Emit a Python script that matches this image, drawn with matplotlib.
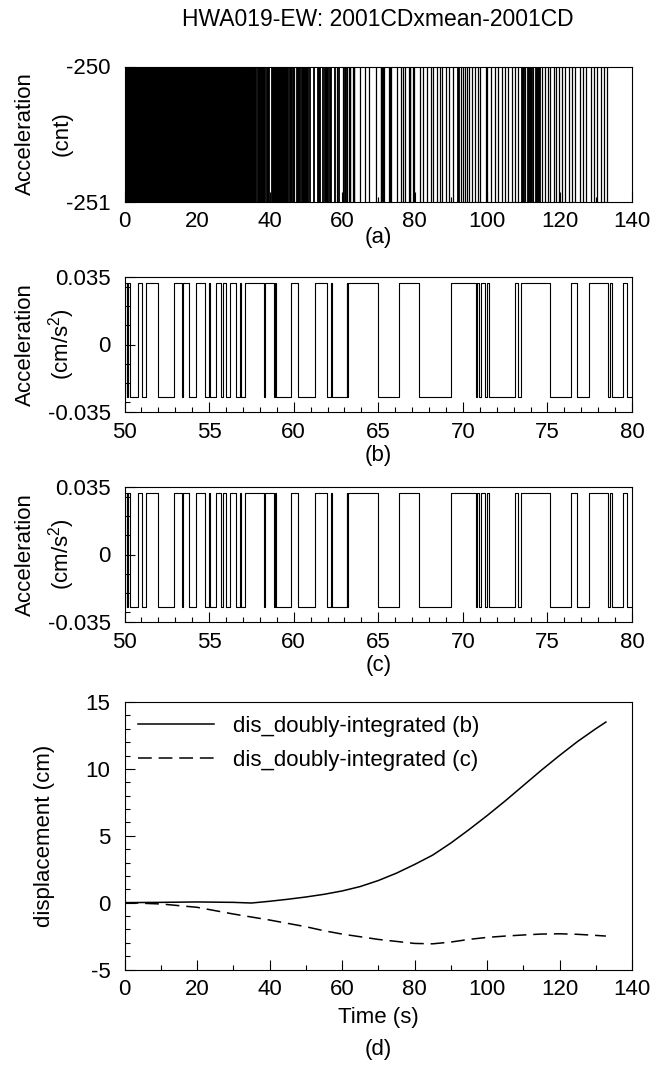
import matplotlib
matplotlib.use("Agg")
import matplotlib.pyplot as plt
from matplotlib.ticker import MultipleLocator, FixedLocator

plt.rcParams['font.family'] = ['Liberation Sans', 'DejaVu Sans']
plt.rcParams['mathtext.fontset'] = 'custom'
plt.rcParams['mathtext.rm'] = 'Liberation Sans'
plt.rcParams['mathtext.it'] = 'Liberation Sans:italic'
plt.rcParams['axes.unicode_minus'] = False
plt.rcParams['font.size'] = 16

# ---- (a) raw counts, -250 / -251 flicker over the whole record ----
# spans where the record flips too fast to resolve (look solid black)
a_blocks = [(0.0, 32.6), (32.8, 36.4), (36.6, 37.8), (38.0, 38.7), (38.9, 39.9),
            (40.3, 40.6), (40.8, 43.1), (43.3, 45.0), (45.5, 46.1), (47.2, 48.4),
            (48.6, 50.7), (51.0, 51.3), (52.0, 52.3), (53.0, 54.0), (54.5, 54.8),
            (55.0, 56.2), (56.4, 57.1), (57.8, 58.0), (58.8, 59.3), (60.6, 61.0),
            (91.6, 92.3), (109.4, 110.2), (111.0, 112.3), (113.2, 114.6)]
a_lines_early = [46.5, 46.8, 58.5]
a_lines_late = [81.5, 82.4, 83.4, 84.5, 85.2, 86.1, 87.0, 87.7, 88.6, 89.6, 90.7,
                92.8, 93.3, 93.8, 94.4, 95.0, 95.8, 96.7, 97.6, 98.2, 99.7, 100.1,
                101.0, 102.2, 103.1, 104.0, 104.9, 105.9, 106.8, 107.7, 108.5, 110.6,
                112.8, 115.3, 116.0, 116.9, 117.5, 118.4, 119.0, 119.9, 120.6, 121.5,
                122.6, 123.5, 124.4, 125.6, 126.5, 127.4, 128.6, 129.5, 130.4, 131.4,
                132.2, 133.2]

# ---- (b)/(c) acceleration, 50-80 s window: switching times, starts low ----
b_toggles = [50.05, 50.12, 50.20, 50.35,
             50.81, 51.04, 51.28, 51.99,
             52.91, 53.41, 53.46, 53.80,
             54.25, 54.78, 55.00, 55.06, 55.43, 55.71,
             55.81, 56.02, 56.22, 56.61,
             56.81, 56.89, 57.11, 58.27,
             58.33, 58.86, 58.92, 58.98,
             59.86, 60.28,
             61.27, 61.96, 62.20, 62.26,
             63.14, 63.18, 63.24, 65.01,
             66.23, 67.42, 69.29, 70.78,
             70.86, 70.94, 71.06, 71.33, 71.43, 71.55,
             73.08, 73.28, 73.45, 75.17,
             76.40, 76.77, 77.46, 78.61,
             78.70, 78.80, 79.48, 79.73]
b_high = 0.0321
b_low = -0.0272
c_toggles = b_toggles

# ---- (d) doubly integrated displacement ----
d_t_b = [0, 10, 20, 30, 35, 40, 45, 50, 55, 60, 65, 70, 75, 80, 85, 90, 95,
         100, 105, 110, 115, 120, 125, 130, 132.8]
d_b = [0, 0.02, 0.05, 0.02, -0.03, 0.1, 0.25, 0.42, 0.62, 0.87, 1.2, 1.65, 2.2,
       2.85, 3.55, 4.45, 5.45, 6.5, 7.6, 8.75, 9.9, 11.0, 12.05, 13.0, 13.5]
d_t_c = [0, 10, 20, 30, 40, 50, 55, 60, 65, 70, 75, 80, 85, 90, 95, 100, 105,
         110, 115, 120, 125, 130, 132.8]
d_c = [0, -0.1, -0.35, -0.85, -1.3, -1.8, -2.1, -2.35, -2.55, -2.75, -2.9, -3.05,
       -3.08, -2.95, -2.75, -2.6, -2.5, -2.42, -2.35, -2.33, -2.37, -2.45, -2.5]


def square_wave(toggles, t0, t1, lo, hi):
    xs = [t0] + list(toggles) + [t1]
    lev = lo
    ys = [lev]
    for _ in toggles:
        lev = hi if lev == lo else lo
        ys.append(lev)
    ys.append(lev)
    return xs, ys


W, H = 652, 1076
fig = plt.figure(figsize=(W / 100, H / 100), dpi=100)
L = 124.5 / W
AW = 507.5 / W


def pos(top, bottom):
    return [L, 1 - bottom / H, AW, (bottom - top) / H]


def style(ax):
    for s in ax.spines.values():
        s.set_linewidth(0.8)
    ax.tick_params(which='both', direction='in', top=False, right=False, width=0.8)
    ax.tick_params(which='major', length=7)
    ax.tick_params(which='minor', length=3.6)
    ax.tick_params(axis='x', pad=7, labelsize=16)
    ax.tick_params(axis='y', pad=10, labelsize=16)


def two_line_ylabel(top, bottom, first, second):
    yc = 1 - (top + bottom) / 2 / H
    fig.text(25 / W, yc, first, rotation=90, ha='center', va='center', fontsize=16)
    fig.text(62 / W, yc, second, rotation=90, ha='center', va='center', fontsize=16)


ax_a = fig.add_axes(pos(66.5, 201.5))
ax_b = fig.add_axes(pos(277, 412))
ax_c = fig.add_axes(pos(487, 622))
ax_d = fig.add_axes(pos(702, 969.5))

# (a)
for t0, t1 in a_blocks:
    ax_a.fill_between([t0, t1], -251, -250, color='k', lw=0.6)
a_lines_mid = [t for t in b_toggles if t > 60]
ax_a.vlines(a_lines_early + a_lines_mid + a_lines_late, -251, -250, color='k', lw=0.9)
ax_a.set_xlim(0, 140)
ax_a.set_ylim(-251, -250)
ax_a.xaxis.set_major_locator(MultipleLocator(20))
ax_a.xaxis.set_minor_locator(MultipleLocator(10))
ax_a.yaxis.set_major_locator(FixedLocator([-251, -250]))
ax_a.set_yticklabels(['-251', '-250'])
style(ax_a)
two_line_ylabel(66.5, 201.5, 'Acceleration', '(cnt)')

# (b), (c)
for ax, tog, top, bot in ((ax_b, b_toggles, 277, 412), (ax_c, c_toggles, 487, 622)):
    xs, ys = square_wave(tog, 50, 80, b_low, b_high)
    ax.step(xs, ys, where='post', color='k', lw=0.8)
    ax.set_xlim(50, 80)
    ax.set_ylim(-0.035, 0.035)
    ax.xaxis.set_major_locator(MultipleLocator(5))
    ax.xaxis.set_minor_locator(MultipleLocator(1))
    ax.yaxis.set_major_locator(FixedLocator([-0.035, 0, 0.035]))
    ax.yaxis.set_minor_locator(FixedLocator([-0.03, -0.02, -0.01, 0.01, 0.02, 0.03]))
    ax.set_yticklabels(['-0.035', '0', '0.035'])
    style(ax)
    two_line_ylabel(top, bot, 'Acceleration', '(cm/s$^2$)')

# (d)
ax_d.plot(d_t_b, d_b, color='k', lw=1.1, label='dis_doubly-integrated (b)')
ax_d.plot(d_t_c, d_c, color='k', lw=1.1, linestyle=(0, (9, 4.5)),
          label='dis_doubly-integrated (c)')
ax_d.set_xlim(0, 140)
ax_d.set_ylim(-5, 15)
ax_d.xaxis.set_major_locator(MultipleLocator(20))
ax_d.xaxis.set_minor_locator(MultipleLocator(10))
ax_d.yaxis.set_major_locator(MultipleLocator(5))
ax_d.yaxis.set_minor_locator(MultipleLocator(1))
style(ax_d)
ax_d.set_ylabel('displacement (cm)', va='center')
ax_d.yaxis.set_label_coords(-0.1567, 0.5)
ax_d.legend(loc='upper left', frameon=False, fontsize=16, handlelength=3.4,
            handletextpad=0.86, borderpad=0, borderaxespad=0.62, labelspacing=0.6)

cx = (124.5 + 632) / 2 / W
fig.text(cx, 1 - 20 / H, 'HWA019-EW: 2001CDxmean-2001CD', ha='center', va='center', fontsize=16.5)
fig.text(cx, 1 - 238 / H, '(a)', ha='center', va='center', fontsize=16)
fig.text(cx, 1 - 456 / H, '(b)', ha='center', va='center', fontsize=16)
fig.text(cx, 1 - 666 / H, '(c)', ha='center', va='center', fontsize=16)
fig.text(cx, 1 - 1018 / H, 'Time (s)', ha='center', va='center', fontsize=16)
fig.text(cx, 1 - 1050 / H, '(d)', ha='center', va='center', fontsize=16)

fig.savefig('out.png', dpi=100)
